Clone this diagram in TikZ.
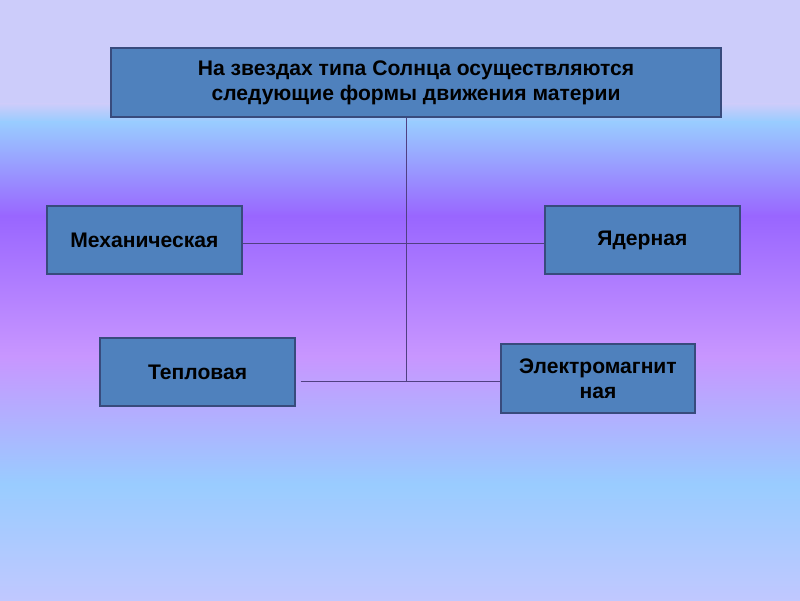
\documentclass[tikz,border=0pt]{standalone}
\usepackage{fontspec}
\setmainfont{Liberation Sans}
\usepackage{tikz}
\definecolor{lavender}{RGB}{204, 204, 250}
\definecolor{skyblue}{RGB}{153, 204, 255}
\definecolor{violet}{RGB}{153, 102, 255}
\definecolor{orchid}{RGB}{200, 150, 255}
\definecolor{paleblue}{RGB}{192, 200, 255}
\definecolor{boxblue}{RGB}{79, 129, 189}
\definecolor{boxedge}{RGB}{56, 75, 125}
\definecolor{linkline}{RGB}{80, 64, 130}
\usetikzlibrary{positioning, calc}

\begin{document}
\begin{tikzpicture}[
    formbox/.style={draw=boxedge, line width=0.9pt, fill=boxblue, align=center,
                    minimum width=#1, minimum height=1.7cm, inner sep=2pt,
                    font=\fontsize{15}{17.7}\selectfont\bfseries},
    link/.style={draw=linkline, line width=0.7pt}
]
    % background
    \useasboundingbox (0,0) rectangle (20,15);
    \fill[lavender] (0,12.4) rectangle (20,15);
    \shade[top color=lavender, bottom color=skyblue] (0,11.95) rectangle (20,12.4);
    \shade[top color=skyblue, bottom color=violet] (0,9.6) rectangle (20,11.95);
    \shade[top color=violet, bottom color=orchid] (0,6.1) rectangle (20,9.6);
    \shade[top color=orchid, bottom color=skyblue] (0,2.9) rectangle (20,6.1);
    \shade[top color=skyblue, bottom color=paleblue] (0,0) rectangle (20,2.9);

    \node[formbox=15.25cm, minimum height=1.725cm] (top) at (10.4,12.94) {
        На звездах типа Солнца осуществляются\\
        следующие формы движения материи
    };
    \node[formbox=4.875cm] (mech) at (3.61,9.0) {Механическая};
    \node[formbox=4.875cm] (nucl) at (16.06,9.0) {Ядерная};
    \node[formbox=4.875cm] (heat) at (4.94,5.7) {Тепловая};
    \node[formbox=4.85cm, minimum height=1.725cm] (emag) at (14.95,5.54) {
        Электромагнит\\ная
    };

    \coordinate (midhub) at (10.15,8.925);
    \coordinate (lowhub) at (10.15,5.475);

    \draw[link] (top.south -| lowhub) -- (lowhub);
    \draw[link] (mech.east |- midhub) -- (nucl.west |- midhub);
    \draw[link] ([xshift=0.125cm]heat.east |- lowhub) -- (emag.west |- lowhub);
\end{tikzpicture}
\end{document}
